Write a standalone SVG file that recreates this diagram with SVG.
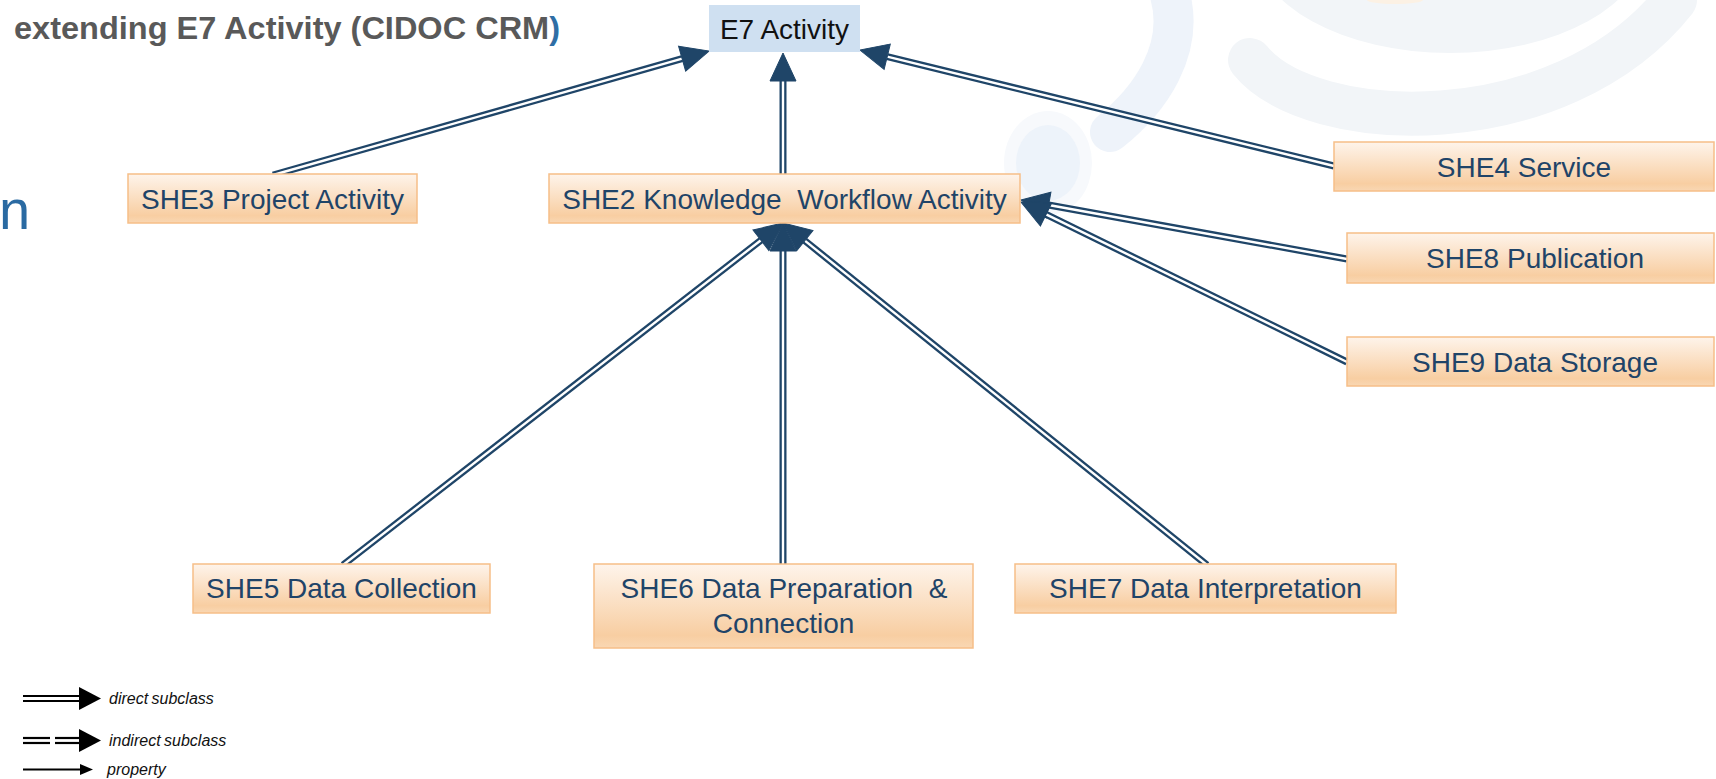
<svg xmlns="http://www.w3.org/2000/svg" width="1716" height="779" viewBox="0 0 1716 779">
  <defs>
    <linearGradient id="boxFill" x1="0" y1="0" x2="0" y2="1">
      <stop offset="0" stop-color="#fef4eb"/>
      <stop offset="0.85" stop-color="#f8cea2"/>
      <stop offset="1" stop-color="#f9d7b3"/>
    </linearGradient>
    <marker id="head" markerUnits="userSpaceOnUse" markerWidth="30" markerHeight="28" refX="0" refY="13" orient="auto" overflow="visible">
      <path d="M0,0 L28,13 L0,26 Z" fill="#1f4568" stroke="#1f4568" stroke-width="1"/>
    </marker>
    <!-- connector geometry, tail to head base -->
    <path id="l-she3-e7" d="M273,175 L682.1,58.7"/>
    <path id="l-she2-e7" d="M783,174 L783,81"/>
    <path id="l-she4-e7" d="M1334,166 L887.2,56.7"/>
    <path id="l-she8-she2" d="M1347,259 L1048.6,205.0"/>
    <path id="l-she9-she2" d="M1347,362 L1046.1,214.3"/>
    <path id="l-she5-she2" d="M343,565 L760.9,240.2"/>
    <path id="l-she6-she2" d="M783,565 L783,251"/>
    <path id="l-she7-she2" d="M1207,565 L804.8,240.6"/>
    <style>
      .cls rect { fill: url(#boxFill); stroke: #f6be88; stroke-width: 1.5; }
      .cls text, .top text { font-family: "Liberation Sans", Arial, sans-serif; font-size: 28px; text-anchor: middle; white-space: pre; }
      .cls text { fill: #1f4468; }
      .top rect { fill: #cfe0f1; }
      .top text { fill: #111111; }
      .rail { fill: none; stroke: #1f4568; stroke-width: 7; }
      .gap { fill: none; stroke: #ffffff; stroke-width: 2.4; marker-end: url(#head); }
      .legend text { font-family: "Liberation Sans", Arial, sans-serif; font-size: 16px; font-style: italic; fill: #111111; word-spacing: -1px; }
      .legend line { stroke: #000000; stroke-width: 2.2; }
    </style>
  </defs>

  <rect width="1716" height="779" fill="#ffffff"/>

  <!-- faint logo behind the diagram -->
  <g id="watermark">
    <ellipse cx="1450" cy="-55" rx="195" ry="108" fill="#f2f5f8"/>
    <path d="M1250,60 C1310,135 1560,145 1675,0" fill="none" stroke="#f2f5f8" stroke-width="44" stroke-linecap="round"/>
    <path d="M1170,-5 C1185,50 1150,100 1110,132" fill="none" stroke="#eef3fa" stroke-width="40" stroke-linecap="round"/>
    <ellipse cx="1048" cy="163" rx="44" ry="52" fill="#f7f9fc"/>
    <ellipse cx="1048" cy="163" rx="32" ry="38" fill="#edf3fa"/>
    <ellipse cx="1395" cy="0" rx="28" ry="4" fill="#fcf1e4"/>
  </g>

  <!-- slide heading -->
  <text x="14" y="39" font-family="Liberation Sans, Arial, sans-serif" font-size="32" font-weight="bold" fill="#595959" textLength="546" lengthAdjust="spacingAndGlyphs">extending E7 Activity (CIDOC CRM<tspan fill="#2f6ea5">)</tspan></text>
  <text x="-1" y="229" font-family="Liberation Sans, Arial, sans-serif" font-size="56" fill="#2a6aa2">n</text>

  <!-- double-line subclass arrows: dark rails first, then white centre gaps with heads on top -->
  <g id="connectors">
    <g id="rails">
      <use class="rail" href="#l-she3-e7"/>
      <use class="rail" href="#l-she2-e7"/>
      <use class="rail" href="#l-she4-e7"/>
      <use class="rail" href="#l-she8-she2"/>
      <use class="rail" href="#l-she9-she2"/>
      <use class="rail" href="#l-she5-she2"/>
      <use class="rail" href="#l-she6-she2"/>
      <use class="rail" href="#l-she7-she2"/>
    </g>
    <g id="gaps">
      <use class="gap" href="#l-she3-e7"/>
      <use class="gap" href="#l-she2-e7"/>
      <use class="gap" href="#l-she4-e7"/>
      <use class="gap" href="#l-she8-she2"/>
      <use class="gap" href="#l-she9-she2"/>
      <use class="gap" href="#l-she5-she2"/>
      <use class="gap" href="#l-she6-she2"/>
      <use class="gap" href="#l-she7-she2"/>
    </g>
  </g>

  <g id="E7" class="top">
    <rect x="709" y="5" width="151" height="47"/>
    <text x="784.5" y="39">E7 Activity</text>
  </g>

  <g id="SHE3" class="cls">
    <rect x="128" y="174" width="289" height="49"/>
    <text x="272.5" y="209">SHE3 Project Activity</text>
  </g>

  <g id="SHE2" class="cls">
    <rect x="549" y="174" width="471" height="49"/>
    <text x="784.5" y="209">SHE2 Knowledge  Workflow Activity</text>
  </g>

  <g id="SHE4" class="cls">
    <rect x="1334" y="142" width="380" height="49"/>
    <text x="1524" y="177">SHE4 Service</text>
  </g>

  <g id="SHE8" class="cls">
    <rect x="1347" y="233" width="367" height="50"/>
    <text x="1535" y="268">SHE8 Publication</text>
  </g>

  <g id="SHE9" class="cls">
    <rect x="1347" y="337" width="367" height="49"/>
    <text x="1535" y="372">SHE9 Data Storage</text>
  </g>

  <g id="SHE5" class="cls">
    <rect x="193" y="564" width="297" height="49"/>
    <text x="341.5" y="598">SHE5 Data Collection</text>
  </g>

  <g id="SHE6" class="cls">
    <rect x="594" y="564" width="379" height="84"/>
    <text x="784" y="598">SHE6 Data Preparation  &amp;</text>
    <text x="783.5" y="633">Connection</text>
  </g>

  <g id="SHE7" class="cls">
    <rect x="1015" y="564" width="381" height="49"/>
    <text x="1205.5" y="598">SHE7 Data Interpretation</text>
  </g>

  <!-- key -->
  <g id="legend" class="legend">
    <line x1="23" y1="696" x2="80" y2="696"/>
    <line x1="23" y1="701" x2="80" y2="701"/>
    <path d="M79,687 L101,698.5 L79,710 Z" fill="#000000"/>
    <text x="109" y="704">direct subclass</text>

    <line x1="23" y1="738" x2="50" y2="738"/>
    <line x1="23" y1="743" x2="50" y2="743"/>
    <line x1="55" y1="738" x2="80" y2="738"/>
    <line x1="55" y1="743" x2="80" y2="743"/>
    <path d="M79,729 L101,740.5 L79,752 Z" fill="#000000"/>
    <text x="109" y="746">indirect subclass</text>

    <line x1="23" y1="769.5" x2="84" y2="769.5"/>
    <path d="M80,764 L93,769.5 L80,775 Z" fill="#000000"/>
    <text x="107" y="775">property</text>
  </g>
</svg>
